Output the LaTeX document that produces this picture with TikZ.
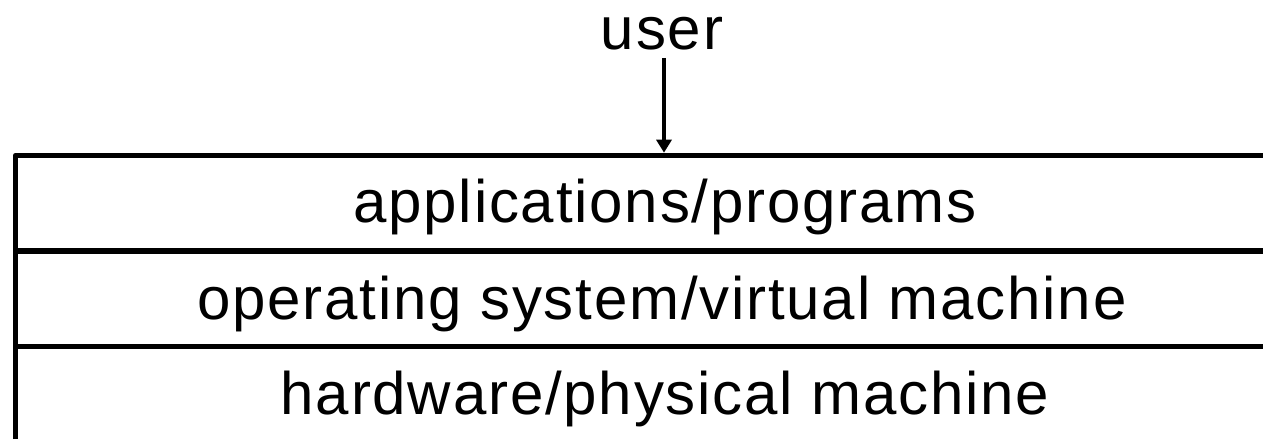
\documentclass[tikz,border=0pt]{standalone}
\usepackage{fontspec}
\setmainfont{Liberation Sans}[LetterSpace=3]
\usetikzlibrary{arrows.meta}
\begin{document}
\begin{tikzpicture}[x=1pt,y=1pt,
  lbl/.style={anchor=base,inner sep=0pt,font=\fontsize{60}{70}\selectfont},
  rule/.style={line width=5.6pt,line join=round},
  conn/.style={line width=3.5pt,-{Triangle[width=15pt,length=13pt]}}]
\useasboundingbox (0,0) rectangle (1263,439);
\fill[white] (0,0) rectangle (1263,439);
% layer box
\draw[rule] (15.5,0) -- (15.5,283.5) -- (1263,283.5);
\draw[rule] (15.5,188) -- (1263,188);
\draw[rule] (15.5,92.5) -- (1263,92.5);
% labels
\node[lbl] (user) at (662,389) {user};
\node[lbl] (app) at (665,216) {applications/programs};
\node[lbl] (os) at (662,119) {operating system/virtual machine};
\node[lbl] (hw) at (665,24) {hardware/physical machine};
\coordinate (top) at (664,286.3);
\draw[conn] (user.base -| top) ++(0,-8) -- (top);
\end{tikzpicture}
\end{document}
